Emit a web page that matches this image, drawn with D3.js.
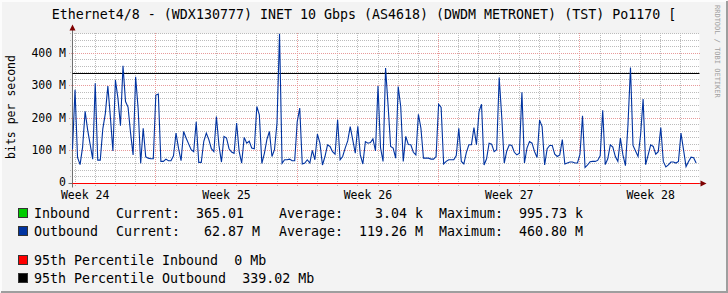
<!DOCTYPE html>
<html>
<head>
<meta charset="utf-8">
<script src="https://d3js.org/d3.v7.min.js"></script>
<style>
    body { margin: 0; background: #f3f3f3; }
    text { font-family: "DejaVu Sans Mono", monospace; white-space: pre; }
</style>
</head>
<body>
<script>
    // outbound traffic in Mbit/s, one sample every 3 hours from startTime
    let startTime = new Date(Date.UTC(2015, 5, 10, 21));
    let endTime = new Date(Date.UTC(2015, 6, 11, 22));
    let stepHours = 3;
    let outbound = [
        105, 288, 80, 58, 112, 222, 165, 120, 75, 308, 72, 72, 168, 215, 300, 205,
        100, 318, 262, 178, 362, 252, 235, 155, 88, 328, 230, 62, 170, 82, 78, 76,
        76, 272, 275, 68, 68, 75, 70, 70, 85, 155, 108, 70, 160, 140, 122, 104,
        98, 190, 65, 65, 130, 155, 135, 107, 98, 206, 118, 66, 145, 140, 107, 97,
        93, 186, 99, 63, 142, 124, 130, 109, 107, 237, 211, 62, 93, 136, 160, 83,
        104, 186, 460.8, 62, 73, 73, 75, 70, 70, 190, 232, 60, 63, 73, 63, 102,
        73, 152, 124, 57, 83, 119, 114, 98, 90, 196, 73, 83, 109, 131, 175, 134,
        93, 176, 88, 60, 129, 124, 126, 137, 100, 300, 110, 68, 355, 240, 114, 109,
        78, 298, 237, 68, 145, 120, 119, 96, 88, 213, 170, 78, 78, 78, 75, 75,
        83, 244, 234, 60, 68, 73, 73, 73, 86, 170, 68, 60, 96, 119, 119, 172,
        119, 221, 244, 57, 76, 124, 121, 98, 104, 326, 206, 63, 100, 119, 117, 96,
        88, 93, 281, 63, 109, 129, 124, 98, 80, 195, 175, 57, 107, 117, 117, 90,
        83, 88, 135, 60, 63, 66, 66, 63, 63, 90, 208, 49, 57, 67, 68, 68,
        71, 85, 225, 58, 76, 119, 112, 83, 68, 140, 88, 55, 180, 357, 117, 100,
        83, 150, 260, 58, 88, 119, 114, 90, 98, 172, 68, 51, 57, 66, 66, 63,
        68, 155, 104, 52, 68, 81, 79, 63
    ];
    let yMax = 461.5;

    let title = "Ethernet4/8 - (WDX130777) INET 10 Gbps (AS4618) (DWDM METRONET) (TST) Po1170 [";
    let legendNames = ["Inbound", "Outbound"];
    let legendColors = ["#00cc00", "#0033a0"];
    let currentVals = [365.01, 62.87];
    let currentUnits = [" ", "M"];
    let averageVals = [3.04, 119.26];
    let averageUnits = ["k", "M"];
    let maximumVals = [995.73, 460.80];
    let maximumUnits = ["k", "M"];
    let pctNames = ["95th Percentile Inbound", "95th Percentile Outbound"];
    let pctVals = [0, 339.02];
    let pctColors = ["#ff0000", "#000000"];

    let width = 728, height = 293;
    let pLeft = 72.5, pRight = 699.5, pTop = 33.5, pBottom = 183.5;

    let svg = d3.select("body").append("svg")
        .attr("width", width)
        .attr("height", height);

    // frame
    svg.append("rect").attr("width", width).attr("height", height).style("fill", "#f3f3f3");
    svg.append("path").attr("d", "M1,292V1H727").style("fill", "none").style("stroke", "#fcfcfc").style("stroke-width", 2);
    svg.append("path").attr("d", "M1,292H727V1").style("fill", "none").style("stroke", "#9e9e9e").style("stroke-width", 2);

    let x = d3.scaleUtc().domain([startTime, endTime]).range([pLeft, pRight]);
    let y = d3.scaleLinear().domain([0, yMax]).range([pBottom, pTop]);

    svg.append("rect")
        .attr("x", pLeft).attr("y", pTop)
        .attr("width", pRight - pLeft).attr("height", pBottom - pTop)
        .style("fill", "#ffffff");

    let days = d3.utcDay.range(startTime, endTime);
    let weeks = d3.utcMonday.range(startTime, endTime);
    let minorY = y.ticks(20).filter(function(d) {return d % 100 !== 0;});
    let majorY = y.ticks(5);

    function px(v) {return Math.round(v - 0.5) + 0.5;}

    // minor grid (dots aligned on whole pixels)
    let grid = svg.append("g").style("stroke-width", 1).style("shape-rendering", "crispEdges");
    grid.selectAll(".vminor")
        .data(days.filter(function(d) {return d.getUTCDay() !== 1;}))
        .join("line")
            .attr("x1", function(d) {return px(x(d));})
            .attr("x2", function(d) {return px(x(d));})
            .attr("y1", 33).attr("y2", 186)
            .style("stroke", "#bcbcbc")
            .style("stroke-dasharray", "1,1");
    grid.selectAll(".hminor")
        .data(minorY)
        .join("line")
            .attr("x1", 70).attr("x2", 700)
            .attr("y1", function(d) {return px(y(d));})
            .attr("y2", function(d) {return px(y(d));})
            .style("stroke", "#bcbcbc")
            .style("stroke-dasharray", "1,1");

    // major grid
    let mgrid = svg.append("g").style("shape-rendering", "crispEdges");
    mgrid.selectAll("line.vmajor")
        .data(weeks)
        .join("line")
            .attr("x1", function(d) {return px(x(d));})
            .attr("x2", function(d) {return px(x(d));})
            .attr("y1", 33).attr("y2", 187)
            .style("stroke", "#e89a9a")
            .style("stroke-dasharray", "1,1");
    mgrid.selectAll("line.hmajor")
        .data(majorY.filter(function(d) {return d > 0;}))
        .join("line")
            .attr("x1", 69).attr("x2", 700)
            .attr("y1", function(d) {return px(y(d));})
            .attr("y2", function(d) {return px(y(d));})
            .style("stroke", "#e89a9a")
            .style("stroke-dasharray", "1,1");

    // axes
    svg.append("line")
        .attr("x1", pLeft).attr("x2", pLeft)
        .attr("y1", pBottom + 4).attr("y2", pTop - 4)
        .style("stroke", "#707070");
    svg.append("line")
        .attr("x1", pLeft - 4).attr("x2", pRight + 2)
        .attr("y1", pBottom).attr("y2", pBottom)
        .style("stroke", "#707070");
    svg.append("path")
        .attr("d", "M" + (pLeft - 3) + "," + (pTop - 3) + "L" + pLeft + "," + (pTop - 9) + "L" + (pLeft + 3) + "," + (pTop - 3) + "Z")
        .style("fill", "#7f0000");
    svg.append("path")
        .attr("d", "M" + (pRight + 1) + "," + (pBottom - 3) + "L" + (pRight + 7) + "," + pBottom + "L" + (pRight + 1) + "," + (pBottom + 3) + "Z")
        .style("fill", "#7f0000");

    // y labels
    svg.selectAll("text.ylab")
        .data(majorY)
        .join("text")
            .attr("x", 66)
            .attr("y", function(d) {return d === 0 ? y(d) + 2 : y(d) + 3.5;})
            .attr("text-anchor", "end")
            .style("font-size", "11.5px")
            .text(function(d) {return d === 0 ? "0" : d + " M";});

    // x labels, centred on the middle of each week
    let labelWeeks = d3.utcMonday.range(d3.utcMonday.floor(startTime), endTime);
    svg.selectAll("text.xlab")
        .data(labelWeeks)
        .join("text")
            .attr("x", function(d) {return x(new Date(d.getTime() + 3.5 * 864e5));})
            .attr("y", 199)
            .attr("text-anchor", "middle")
            .style("font-size", "11.5px")
            .text(function(d) {return "Week " + d3.utcFormat("%V")(d);});

    // percentile rules
    svg.selectAll("line.pct")
        .data(pctVals)
        .join("line")
            .attr("x1", pLeft).attr("x2", pRight)
            .attr("y1", function(d) {return px(y(d));})
            .attr("y2", function(d) {return px(y(d));})
            .style("stroke", function(d, i) {return pctColors[i];});

    // outbound line
    let line = d3.line()
        .x(function(d, i) {return x(new Date(startTime.getTime() + i * stepHours * 36e5));})
        .y(function(d) {return y(d);});
    svg.append("path")
        .datum(outbound)
        .attr("d", line)
        .style("fill", "none")
        .style("stroke", legendColors[1])
        .style("stroke-width", 1.1);

    // titles
    svg.append("text")
        .attr("x", 364).attr("y", 19)
        .attr("text-anchor", "middle")
        .style("font-size", "13.3px")
        .text(title);
    svg.append("text")
        .attr("transform", "translate(15,107) rotate(-90)")
        .attr("text-anchor", "middle")
        .style("font-size", "11.5px")
        .text("bits per second");
    svg.append("text")
        .attr("transform", "translate(715,5) rotate(90)")
        .style("font-size", "7px")
        .style("fill", "#a0a0a0")
        .text("RRDTOOL / TOBI OETIKER");

    // legend
    let fmt = d3.format(".2f");
    function field(label, v, unit) {
        return label + fmt(v).padStart(8) + " " + unit;
    }
    let rowsY = [218, 236, 265, 283];
    let leg = svg.append("g").style("font-size", "13.3px");
    legendNames.forEach(function(name, i) {
        leg.append("rect")
            .attr("x", 18.5).attr("y", rowsY[i] - 9.5)
            .attr("width", 9).attr("height", 9)
            .style("fill", legendColors[i])
            .style("stroke", "#333");
        leg.append("text").attr("x", 34).attr("y", rowsY[i]).text(name);
        leg.append("text").attr("x", 116).attr("y", rowsY[i]).text(field("Current:", currentVals[i], currentUnits[i]));
        leg.append("text").attr("x", 279).attr("y", rowsY[i]).text(field("Average:", averageVals[i], averageUnits[i]));
        leg.append("text").attr("x", 439).attr("y", rowsY[i]).text(field("Maximum:", maximumVals[i], maximumUnits[i]));
    });
    pctNames.forEach(function(name, i) {
        leg.append("rect")
            .attr("x", 18.5).attr("y", rowsY[i + 2] - 9.5)
            .attr("width", 9).attr("height", 9)
            .style("fill", pctColors[i])
            .style("stroke", "#333");
        leg.append("text").attr("x", 34).attr("y", rowsY[i + 2])
            .text(name + "  " + (pctVals[i] === 0 ? "0" : fmt(pctVals[i])) + " Mb");
    });
</script>
</body>
</html>
